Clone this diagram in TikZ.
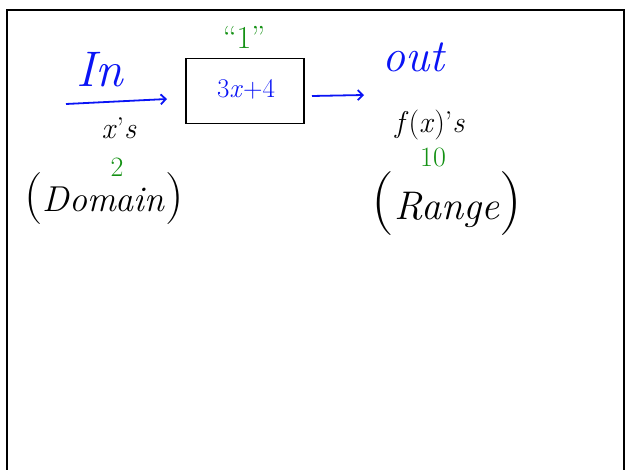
\documentclass[tikz,border=0pt]{standalone}
\usepackage{fontspec}
\usepackage{tikz}
\usetikzlibrary{arrows.meta}

\begin{document}
\begin{tikzpicture}[x=1pt,y=1pt,yscale=-1,xscale=1]
\useasboundingbox (0,0) rectangle (626,470);
%frame, open at the bottom
\draw [line width=2pt]   (7,470) -- (7,10) -- (624,10) -- (624,470) ;

%Machine box
\draw (245,91) node [draw, line width=1.8pt, minimum width=118, minimum height=65, inner sep=0pt] (machine) {};
% Text Node
\draw (246,89) node [color={rgb, 255:red, 10; green, 20; blue, 245 }  ,opacity=1 ] (rule) {\fontsize{27}{29}\selectfont 3\textit{x}+4};
% Text Node
\draw (244,37) node [color={rgb, 255:red, 20; green, 145; blue, 20 }  ,opacity=1 ] (one) {\fontsize{32}{34}\selectfont ``1''};

%In side
\draw (100,70) node [color={rgb, 255:red, 10; green, 20; blue, 245 }  ,opacity=1 ] (inlabel) {\fontsize{50}{52}\selectfont \textit{In}};
\coordinate (inTail) at (66,104);
\coordinate (inTip) at (167,99);
\draw [color={rgb, 255:red, 10; green, 20; blue, 245 }  ,line width=1.8pt, -{Straight Barb[length=5pt,width=10pt]}]   (inTail) -- (inTip) ;
% Text Node
\draw (119,128) node (xs) {\fontsize{30}{32}\selectfont \textit{x}’\textit{s}};
% Text Node
\draw (117,167) node [color={rgb, 255:red, 20; green, 145; blue, 20 }  ,opacity=1 ] (two) {\fontsize{28}{30}\selectfont 2};
% Text Node
\draw (104,199) node (domain) {\fontsize{36}{40}\selectfont {\fontsize{52}{52}\selectfont(}\textit{Domain}{\fontsize{52}{52}\selectfont)}};

%Out side
\coordinate (outTail) at (312,96);
\coordinate (outTip) at (364,95);
\draw [color={rgb, 255:red, 10; green, 20; blue, 245 }  ,line width=1.8pt, -{Straight Barb[length=5pt,width=10pt]}]   (outTail) -- (outTip) ;
% Text Node
\draw (414,57) node [color={rgb, 255:red, 10; green, 20; blue, 245 }  ,opacity=1 ] (outlabel) {\fontsize{46}{48}\selectfont \textit{out}};
% Text Node
\draw (430,125) node (fxs) {\fontsize{30}{32}\selectfont \textit{f}(\textit{x})’\textit{s}};
% Text Node
\draw (433,157) node [color={rgb, 255:red, 20; green, 145; blue, 20 }  ,opacity=1 ] (ten) {\fontsize{28}{30}\selectfont 10};
% Text Node
\draw (447,204) node (range) {\fontsize{40}{44}\selectfont {\fontsize{64}{64}\selectfont(}\textit{Range}{\fontsize{64}{64}\selectfont)}};

\end{tikzpicture}
\end{document}
